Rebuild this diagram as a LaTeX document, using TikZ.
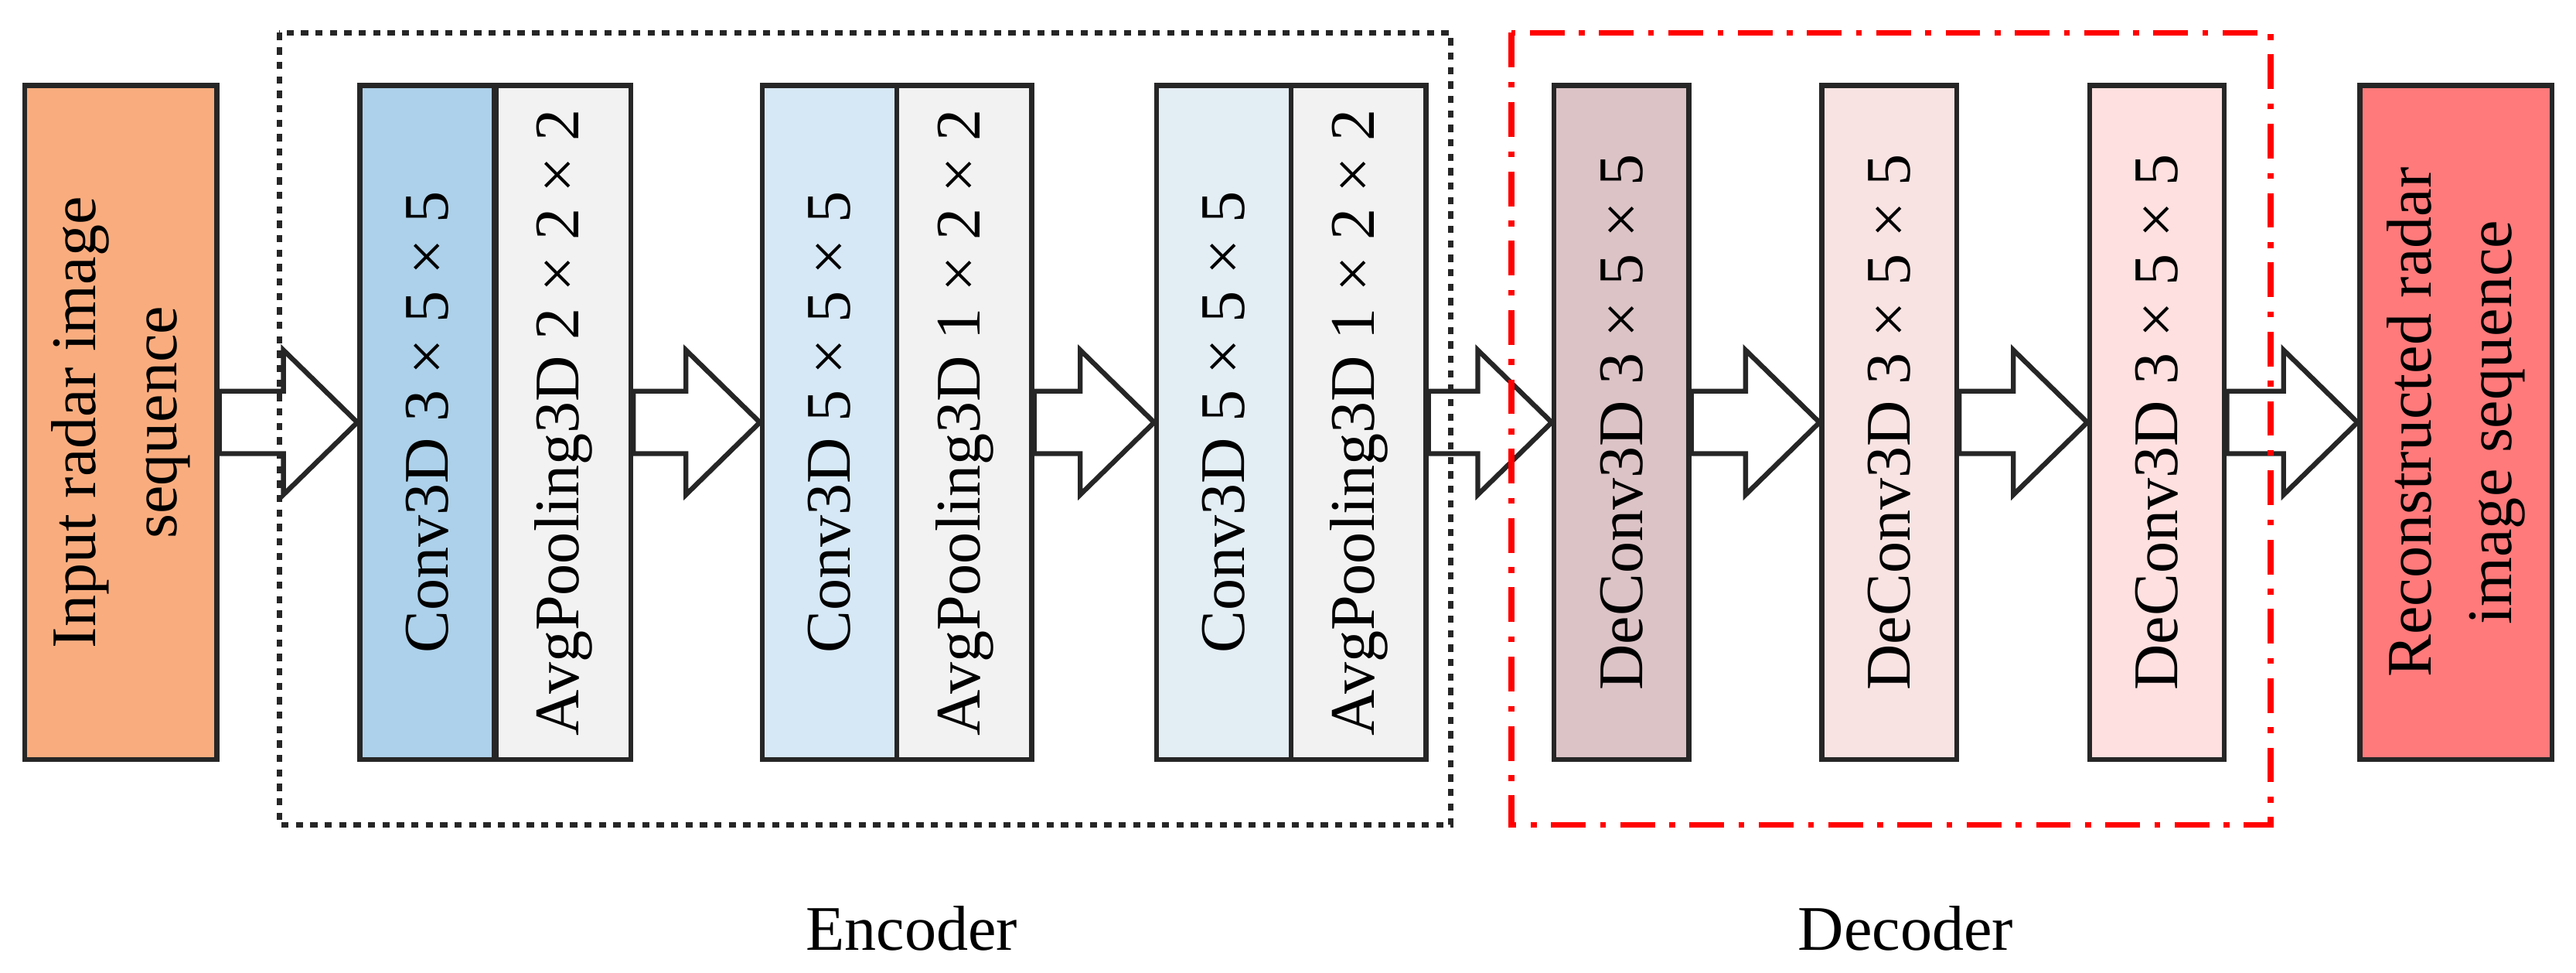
\documentclass[tikz,border=0pt]{standalone}
\usepackage{fontspec}
\setmainfont{Liberation Serif}
\usetikzlibrary{calc}
\definecolor{cIn}{HTML}{F9AD7F}
\definecolor{cC1}{HTML}{ADD1EA}
\definecolor{cC2}{HTML}{D6E8F5}
\definecolor{cC3}{HTML}{E3EDF4}
\definecolor{cP}{HTML}{F2F2F2}
\definecolor{cD1}{HTML}{DCC3C6}
\definecolor{cD2}{HTML}{F8E3E2}
\definecolor{cD3}{HTML}{FDE0DF}
\definecolor{cOut}{HTML}{FE7A7B}
\tikzset{
  blk/.style={draw=black!85,line width=1.7pt,minimum height=8.2cm,inner sep=0pt,
    font=\fontsize{22}{26}\selectfont,align=center},
  nar/.style={blk,minimum width=1.64cm},
  wide/.style={blk,minimum width=2.34cm},
  barrow/.style={draw=black!85,line width=1.7pt,fill=white,line join=miter},
}
\newcommand{\blockarrow}[2]{%
  \draw[barrow] let \p1=(#1.east), \p2=(#2.west) in
    (\x1,\y1+0.38cm) -- (\x2-0.9cm,\y1+0.38cm) -- (\x2-0.9cm,\y1+0.88cm) -- (\x2,\y1)
    -- (\x2-0.9cm,\y1-0.88cm) -- (\x2-0.9cm,\y1-0.38cm) -- (\x1,\y1-0.38cm) -- cycle;}
\begin{document}
\begin{tikzpicture}
\useasboundingbox (0,0) rectangle (31.36,-11.84);
% boxes (x in px*0.02)
\node[wide,fill=cIn] (in) at (1.47,-5.14) {\rotatebox{90}{\parbox{8cm}{\centering Input radar image\\[2pt]sequence}}};
\node[nar,fill=cC1] (c1) at (5.20,-5.14) {\rotatebox{90}{Conv3D 3 × 5 × 5}};
\node[nar,fill=cP] (p1) at (6.86,-5.14) {\rotatebox{90}{AvgPooling3D 2 × 2 × 2}};
\node[nar,fill=cC2] (c2) at (10.10,-5.14) {\rotatebox{90}{Conv3D 5 × 5 × 5}};
\node[nar,fill=cP] (p2) at (11.74,-5.14) {\rotatebox{90}{AvgPooling3D 1 × 2 × 2}};
\node[nar,fill=cC3] (c3) at (14.90,-5.14) {\rotatebox{90}{Conv3D 5 × 5 × 5}};
\node[nar,fill=cP] (p3) at (16.54,-5.14) {\rotatebox{90}{AvgPooling3D 1 × 2 × 2}};
\node[nar,fill=cD1] (d1) at (19.74,-5.14) {\rotatebox{90}{DeConv3D 3 × 5 × 5}};
\node[nar,fill=cD2] (d2) at (23.00,-5.14) {\rotatebox{90}{DeConv3D 3 × 5 × 5}};
\node[nar,fill=cD3] (d3) at (26.26,-5.14) {\rotatebox{90}{DeConv3D 3 × 5 × 5}};
\node[wide,fill=cOut] (out) at (29.90,-5.14) {\rotatebox{90}{\parbox{8cm}{\centering Reconstructed radar\\[2pt]image sequence}}};
% arrows
\blockarrow{in}{c1}
\blockarrow{p1}{c2}
\blockarrow{p2}{c3}
\blockarrow{p3}{d1}
\blockarrow{d1}{d2}
\blockarrow{d2}{d3}
\blockarrow{d3}{out}
% groups
\draw[black!85,line width=2pt,dash pattern=on 2.5pt off 2.5pt] (3.40,-0.40) rectangle (17.66,-10.04);
\draw[red,line width=2pt,dash pattern=on 12pt off 5pt on 2pt off 5pt] (18.40,-0.40) rectangle (27.64,-10.04);
\node[font=\fontsize{22}{26}\selectfont] (enc) at (11.10,-11.30) {Encoder};
\node[font=\fontsize{22}{26}\selectfont] (dec) at (23.20,-11.30) {Decoder};
\end{tikzpicture}
\end{document}
